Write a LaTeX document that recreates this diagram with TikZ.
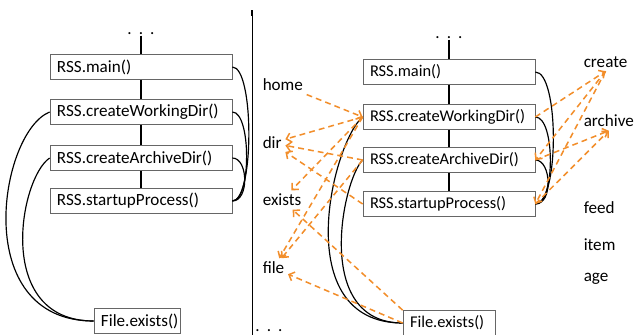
\documentclass[tikz,border=0pt]{standalone}
\usepackage{fontspec}
\setmainfont{Carlito}
\usetikzlibrary{arrows.meta}
\definecolor{flowcol}{RGB}{242,142,43}

\begin{document}
\begin{tikzpicture}[x=0.03cm, y=-0.03cm, >={Straight Barb[length=4pt,width=8pt]},
    every node/.style={font=\fontsize{14.6}{17}\selectfont},
    call/.style={draw=black!60, line width=0.6pt, align=left, inner xsep=0.21cm, inner ysep=0pt, minimum height=0.75cm},
    rcall/.style={call, font=\fontsize{14}{17}\selectfont},
    ellip/.style={inner sep=1pt, anchor=base},
    word/.style={inner sep=3pt, anchor=west},
    link/.style={line width=1pt},
    flow/.style={->, draw=flowcol, line width=1.3pt, dash pattern=on 5pt off 3.5pt}]
  \useasboundingbox (0,0) rectangle (640,335);

  % Linke Seite: nur die Aufrufkette
  \node[ellip] (lTop) at (141,34) {.\hspace{6pt}.\hspace{6pt}.};
  \node[call, text width=5.04cm] (lMain) at (141,67) {RSS.main()};
  \node[call, text width=5.04cm] (lCWD) at (141,112) {RSS.createWorkingDir()};
  \node[call, text width=5.04cm] (lCAD) at (141,158) {RSS.createArchiveDir()};
  \node[call, text width=5.04cm] (lSP) at (141,201) {RSS.startupProcess()};
  \node[call, text width=2.16cm] (lFile) at (137,321) {File.exists()};

  \draw[link] (lTop) -- (lMain) -- (lCWD) -- (lCAD) -- (lSP);
  \draw[link] (lMain.east) .. controls +(22,0) and +(22,0) .. (lSP.east);
  \draw[link] (lCWD.east) .. controls +(19,0) and +(19,0) .. (lSP.east);
  \draw[link] (lCAD.east) .. controls +(16,0) and +(17,0) .. (lSP.east);
  \draw[link] (lCWD.west) .. controls +(-50,20) and +(-125,0) .. (lFile.west);
  \draw[link] (lCAD.west) .. controls +(-30,20) and +(-100,0) .. (lFile.west);

  % Trennlinie
  \draw[line width=0.8pt] (252,10) -- (252,335);
  \draw[line width=1.6pt] (252,10) -- (252,16);
  \node[ellip] (lBot) at (269,331) {.\hspace{6pt}.\hspace{6pt}.};

  % Rechte Seite: Aufrufkette mit Begriffen
  \node[ellip] (rTop) at (449,38) {.\hspace{6pt}.\hspace{6pt}.};
  \node[rcall, text width=4.74cm] (rMain) at (449,72) {RSS.main()};
  \node[rcall, text width=4.74cm] (rCWD) at (449,117) {RSS.createWorkingDir()};
  \node[rcall, text width=4.74cm] (rCAD) at (449,160) {RSS.createArchiveDir()};
  \node[rcall, text width=4.74cm] (rSP) at (449,204) {RSS.startupProcess()};
  \node[rcall, text width=2.34cm] (rFile) at (449,323) {File.exists()};

  \draw[link] (rTop) -- (rMain) -- (rCWD) -- (rCAD) -- (rSP);
  \draw[link] (rMain.east) .. controls +(24,0) and +(24,0) .. (rSP.east);
  \draw[link] (rCWD.east) .. controls +(20,0) and +(20,0) .. (rSP.east);
  \draw[link] (rCAD.east) .. controls +(16,0) and +(18,0) .. (rSP.east);
  \draw[link] (rCWD.west) .. controls +(-30,25) and +(-115,0) .. (rFile.west);
  \draw[link] (rCAD.west) .. controls +(-20,20) and +(-90,0) .. (rFile.west);

  % Begriffe
  \node[word] (wHome) at (259,85) {home};
  \node[word] (wDir) at (259,143) {dir};
  \node[word] (wExists) at (259,200) {exists};
  \node[word] (wFile) at (259,268) {file};
  \node[word] (wCreate) at (580,62) {create};
  \node[word] (wArchive) at (580,121) {archive};
  \node[word] (wFeed) at (580,208) {feed};
  \node[word] (wItem) at (580,245) {item};
  \node[word] (wAge) at (580,279) {age};

  % Zuordnung Methode - Begriff
  \draw[flow] (wHome) -- (rCWD.west);
  \draw[flow] (rCWD.west) -- (wDir);
  \draw[flow] (rCAD.west) -- (wDir);
  \draw[flow] (rSP.west) -- (wDir);
  \draw[flow] (rCWD.west) -- (wExists);
  \draw[flow] (rFile.north west) -- (wExists);
  \draw[flow] (rCWD.west) -- (wFile);
  \draw[flow] (rCAD.west) -- (wFile);
  \draw[flow] (rFile.west) -- (wFile);
  \draw[flow] (rCWD.east) -- (wCreate.south);
  \draw[flow] (wCreate.south) -- (rCAD.east);
  \draw[flow] (wCreate.south) -- (rSP.east);
  \draw[flow] (rCAD.east) -- (wArchive.south);
  \draw[flow] (rSP.east) -- (wArchive.south);
\end{tikzpicture}
\end{document}
